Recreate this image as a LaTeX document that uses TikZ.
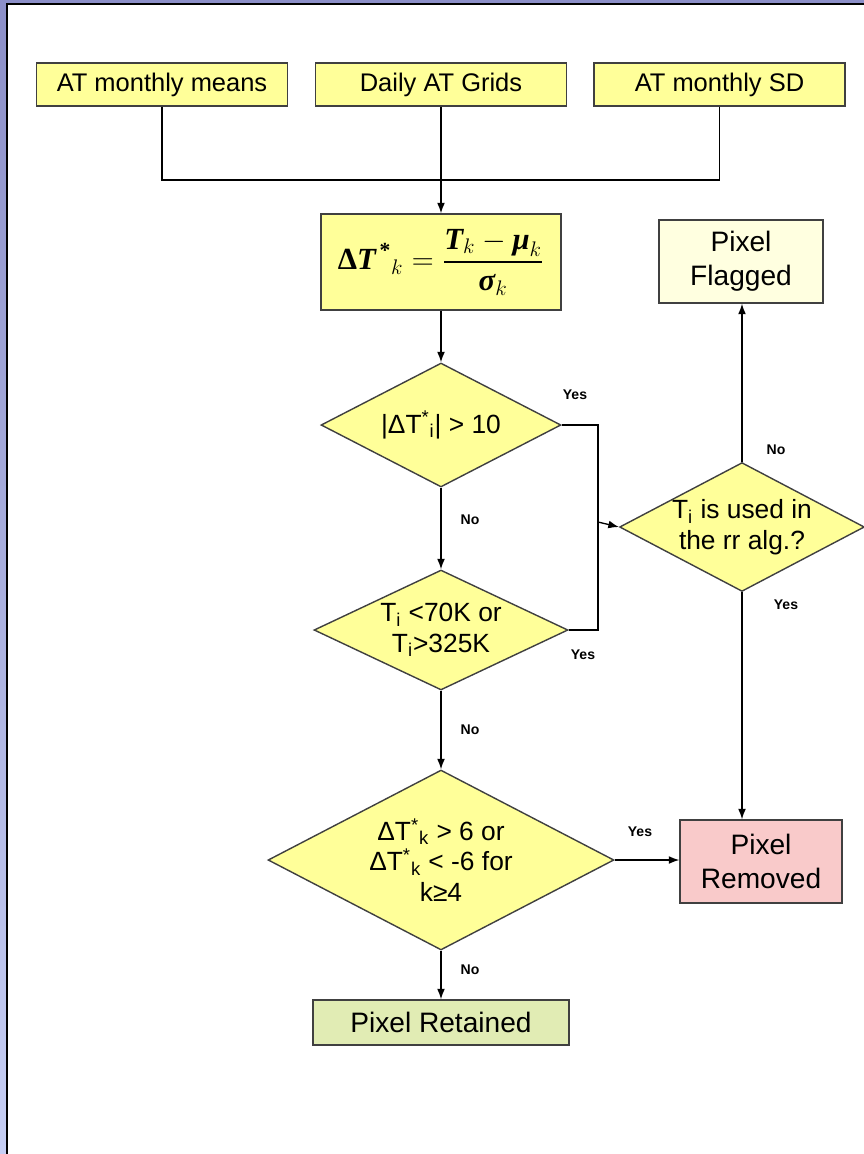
\documentclass[tikz,border=0pt]{standalone}
\usepackage{fontspec}
\usepackage{amsmath}
\setmainfont{Liberation Sans}
\newfontfamily\timesfont{Liberation Serif}
\usetikzlibrary{positioning,arrows.meta,shapes.geometric}
\definecolor{boxyellow}{HTML}{FFFF99}
\definecolor{flagivory}{HTML}{FFFFE0}
\definecolor{removedpink}{HTML}{F9CACA}
\definecolor{retainedgreen}{HTML}{E1ECB4}
\definecolor{boxline}{HTML}{404040}
\definecolor{frametop}{HTML}{8C8FC8}
\definecolor{framebottom}{HTML}{C6CEF4}

\begin{document}
\begin{tikzpicture}[x=0.02cm, y=-0.02cm,
    every node/.style={align=center},
    box/.style={draw=boxline, line width=0.8pt, fill=boxyellow, inner sep=0pt},
    source/.style={box, minimum width=5.02cm, minimum height=0.86cm,
      font=\fontsize{14.5}{17}\selectfont},
    result/.style={box, font=\fontsize{16}{19.5}\selectfont},
    cond/.style={diamond, aspect=2, draw=boxline, line width=0.8pt, fill=boxyellow,
      inner sep=0pt, font=\fontsize{15}{17.5}\selectfont},
    flow/.style={-{Latex[length=6pt,width=4.5pt]}, line width=0.75pt},
    link/.style={line width=0.75pt},
    lab/.style={font=\fontsize{8}{9}\selectfont\bfseries}
  ]
  \useasboundingbox (0,0) rectangle (864,1154);

  % ---------- cadre ---------------------------------------------------------
  \shade[top color=frametop, bottom color=framebottom] (0,0) rectangle (6,1154);
  \fill[frametop] (0,0) rectangle (864,3);
  \draw[line width=1.1pt] (7,1154) -- (7,4) -- (864,4);

  % ---------- donnees d'entree ----------------------------------------------
  \node[source] (means) at (162,84.5) {AT monthly means};
  \node[source] (daily) at (441,84.5) {Daily AT Grids};
  \node[source] (sd)    at (719.5,84.5) {AT monthly SD};
  \coordinate (join) at (441,180);

  \node[box, minimum width=4.8cm, minimum height=1.92cm] (anom) at (441,262)
    {\timesfont\fontsize{17.5}{21}\selectfont
     $\displaystyle \text{\bfseries Δ\itshape T}^{\text{\bfseries\,*}}{}_{k}
      = \frac{\text{\bfseries\itshape T}_{k}-\text{\bfseries\itshape μ}_{k}}
             {\text{\bfseries\itshape σ}_{k}}$};

  \draw[link] (means.south) |- (join);
  \draw[link] (sd.south) |- (join);
  \draw[link] (daily.south) -- (join);
  \draw[flow] (join) -- (anom.north);

  % ---------- tests ---------------------------------------------------------
  \node[cond, minimum width=4.8cm, minimum height=2.48cm] (absdiff) at (441,425)
    {|ΔT\textsuperscript{*}\textsubscript{i}| > 10};
  \node[cond, minimum width=5.08cm, minimum height=2.4cm] (range) at (441,630)
    {T\textsubscript{i} <70K or\\T\textsubscript{i}>325K};
  \node[cond, minimum width=6.92cm, minimum height=3.6cm] (jump) at (441,860)
    {ΔT\textsuperscript{*}\textsubscript{k} > 6 or\\
     ΔT\textsuperscript{*}\textsubscript{k} < -6 for\\k≥4};
  \node[cond, aspect=1.9, minimum width=4.8cm, minimum height=2.42cm] (rralg) at (742,527)
    {T\textsubscript{i} is used in\\the rr alg.?};
  \coordinate (merge) at (598,522);

  % ---------- issues --------------------------------------------------------
  \node[result, fill=flagivory, minimum width=3.28cm, minimum height=1.66cm]
    (flagged) at (741,261.5) {Pixel\\Flagged};
  \node[result, fill=removedpink, minimum width=3.24cm, minimum height=1.66cm]
    (removed) at (761,861.5) {Pixel\\Removed};
  \node[result, fill=retainedgreen, minimum width=5.12cm, minimum height=0.9cm]
    (retained) at (441,1022.5) {Pixel Retained};

  \draw[flow] (anom.south) -- (absdiff.north);
  \draw[flow] (absdiff.south) -- (range.north);
  \draw[flow] (range.south) -- (jump.north);
  \draw[flow] (jump.south) -- (retained.north);
  \draw[flow] (jump.east) -- (jump.east -| removed.west);
  \draw[link] (absdiff.east) -| (merge);
  \draw[link] (range.east) -| (merge);
  \draw[flow] (merge) -- (rralg.west);
  \draw[flow] (rralg.north) -- (rralg.north |- flagged.south);
  \draw[flow] (rralg.south) -- (rralg.south |- removed.north);

  \node[lab] (yes1) at (575,395) {Yes};
  \node[lab] (no1)  at (470,520) {No};
  \node[lab] (yes2) at (583,655) {Yes};
  \node[lab] (no2)  at (470,730) {No};
  \node[lab] (yes3) at (640,832) {Yes};
  \node[lab] (no3)  at (470,970) {No};
  \node[lab] (no4)  at (776,450) {No};
  \node[lab] (yes4) at (786,605) {Yes};

\end{tikzpicture}
\end{document}
